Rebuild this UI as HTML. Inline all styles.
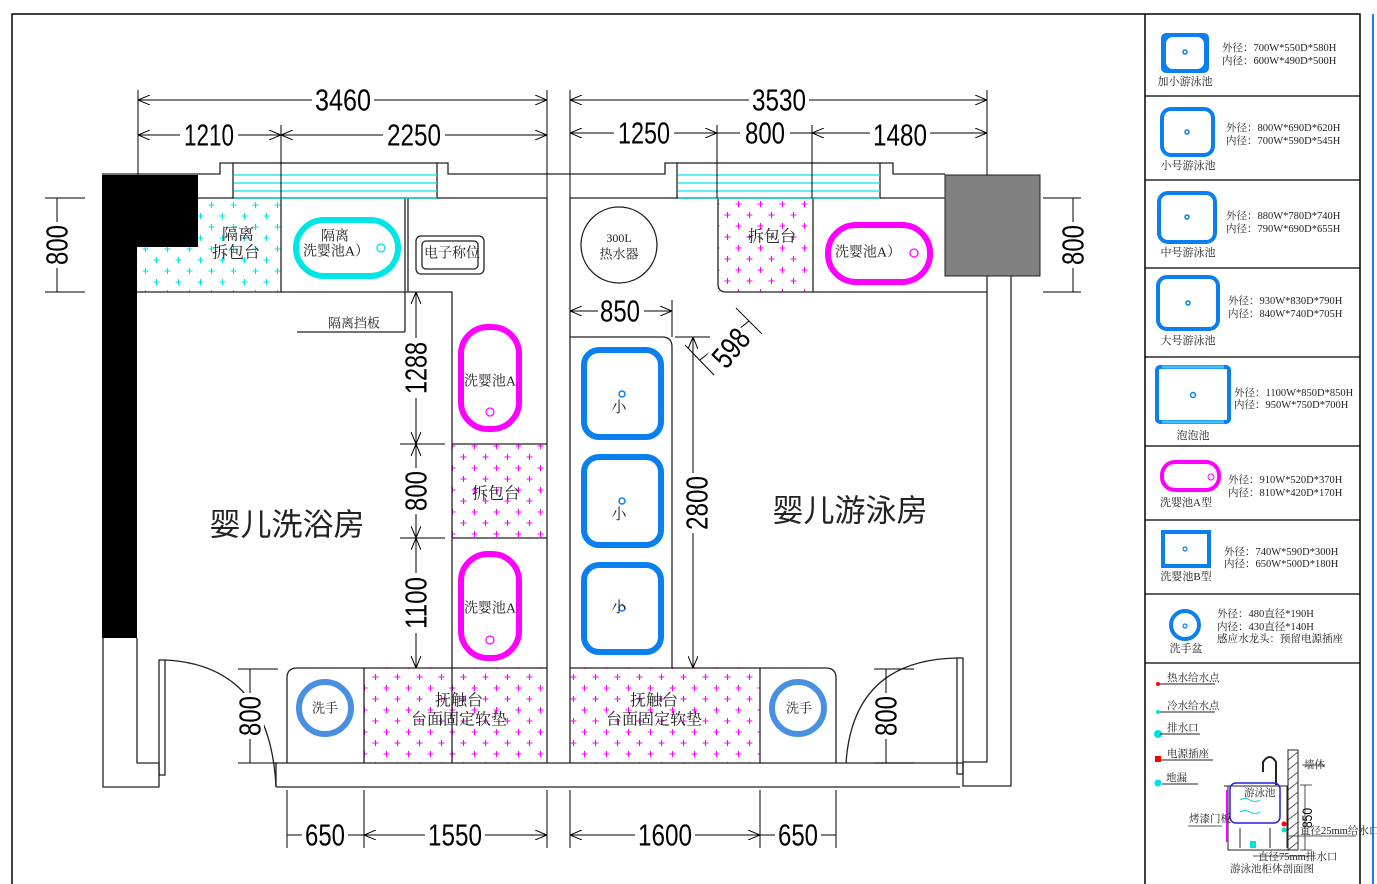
<!DOCTYPE html>
<html><head><meta charset="utf-8"><style>
html,body{margin:0;padding:0;background:#fff;}
svg{display:block;}
.n{font-family:"Liberation Sans",sans-serif;font-size:31px;fill:#000;text-anchor:middle;dominant-baseline:central;}
.c{font-family:"Liberation Serif","Noto Serif CJK SC",serif;fill:#222;text-anchor:middle;dominant-baseline:central;}
.l{font-family:"Liberation Serif","Noto Serif CJK SC",serif;font-size:10.5px;fill:#222;}
</style></head><body>
<svg width="1377" height="884" viewBox="0 0 1377 884" xmlns="http://www.w3.org/2000/svg">
<defs>
<marker id="a" viewBox="0 0 12 10" refX="12" refY="5" markerWidth="12" markerHeight="10" markerUnits="userSpaceOnUse" orient="auto-start-reverse"><path d="M0,0 L12,5 L0,10" fill="none" stroke="#000" stroke-width="1"/></marker>
<pattern id="pc" width="22" height="22" patternUnits="userSpaceOnUse" x="140" y="200">
<path d="M2.5,5h6M5.5,2v6M13.5,16h6M16.5,13v6" stroke="#00e0e0" stroke-width="1.1"/></pattern>
<pattern id="pm" width="22" height="22" patternUnits="userSpaceOnUse" x="370" y="672">
<path d="M2.5,5h6M5.5,2v6M13.5,16h6M16.5,13v6" stroke="#ff00ff" stroke-width="1.1"/></pattern>
</defs>
<rect width="1377" height="884" fill="#fff"/>
<path d="M12,884V14H1360V884" fill="none" stroke="#000" stroke-width="1.5"/>
<line x1="1145" y1="14" x2="1145" y2="884" stroke="#000" stroke-width="1.5"/>
<line x1="1373" y1="14" x2="1373" y2="884" stroke="#1a7cff" stroke-width="2"/>
<g stroke="#000" stroke-width="1.2">
<line x1="1145" y1="96" x2="1360" y2="96"/><line x1="1145" y1="180" x2="1360" y2="180"/>
<line x1="1145" y1="268" x2="1360" y2="268"/><line x1="1145" y1="357" x2="1360" y2="357"/>
<line x1="1145" y1="446" x2="1360" y2="446"/><line x1="1145" y1="520" x2="1360" y2="520"/>
<line x1="1145" y1="594" x2="1360" y2="594"/><line x1="1145" y1="663" x2="1360" y2="663"/>
</g>

<path d="M198,198H281V292H137V247H198Z" fill="url(#pc)"/>
<rect x="718" y="198" width="95" height="94" fill="url(#pm)"/>
<rect x="452" y="444" width="95" height="94" fill="url(#pm)"/>
<rect x="364" y="668" width="183" height="95" fill="url(#pm)"/>
<rect x="570" y="668" width="190" height="95" fill="url(#pm)"/>

<g fill="none" stroke="#222" stroke-width="1.3">
<path d="M102,174H220V163H233"/><path d="M437,163H448V174H665V163H677"/><path d="M880,163H893V174H945"/>
<rect x="233" y="163" width="204" height="35"/><rect x="677" y="163" width="203" height="35"/>
<path d="M198,198H547M570,198H945"/>
<path d="M103,638V787H159V763H137V638"/>
<path d="M276,787V763H963V786H1011V276M987,276V762H963"/>
<path d="M276,787H960"/>
<path d="M547,198V763M570,198V763"/>
<path d="M281,198V292M405,198V332M408,198V292M137,292H452V763M297,332H405"/>
<path d="M452,444H547M452,538H547"/>
<path d="M813,198V292M718,198V284Q718,292 726,292H987"/>
<path d="M570,337H662Q672,337 672,347V668"/>
<path d="M547,668H297Q287,668 287,678V763M364,668V763"/>
<path d="M570,668H826Q836,668 836,678V763M760,668V763"/>
<rect x="159" y="660" width="6" height="115"/><path d="M165,660Q270,665 276,787"/>
<rect x="957" y="658" width="6" height="116"/><path d="M957,658Q853,660 846,763"/>
</g>
<g stroke="#00e8e8" stroke-width="1.3"><line x1="234" y1="175" x2="437" y2="175"/><line x1="234" y1="183" x2="437" y2="183"/><line x1="234" y1="191" x2="437" y2="191"/><line x1="234" y1="198" x2="437" y2="198"/>
<line x1="678" y1="175" x2="880" y2="175"/><line x1="678" y1="183" x2="880" y2="183"/><line x1="678" y1="191" x2="880" y2="191"/><line x1="678" y1="198" x2="880" y2="198"/></g>
<path d="M102,175H198V247H137V638H102Z" fill="#000"/>
<rect x="945" y="175" width="95" height="101" fill="#808080" stroke="#222"/>

<rect x="296" y="220" width="102" height="56" rx="28" fill="none" stroke="#00e6e6" stroke-width="6"/>
<circle cx="381" cy="248" r="4" fill="none" stroke="#00e6e6" stroke-width="1.3"/>
<rect x="416" y="236" width="68" height="38" rx="5" fill="none" stroke="#222" stroke-width="1.3"/>
<rect x="422" y="241" width="56" height="28" rx="4" fill="none" stroke="#222" stroke-width="1.3"/>
<text class="c" x="452" y="254" font-size="14">电子称位</text>
<circle cx="619" cy="245" r="38" fill="none" stroke="#222" stroke-width="1.3"/>
<text class="c" x="619" y="238" font-size="12">300L</text><text class="c" x="619" y="254" font-size="13">热水器</text>
<rect x="828" y="225" width="102" height="57" rx="28" fill="none" stroke="#ff00ff" stroke-width="6"/>
<circle cx="914" cy="253" r="4" fill="none" stroke="#ff00ff" stroke-width="1.3"/>
<text class="c" x="868" y="253" font-size="14">洗婴池A）</text>
<text class="c" x="335" y="237" font-size="14">隔离</text><text class="c" x="336" y="252" font-size="14">洗婴池A）</text>
<text class="c" x="238" y="235" font-size="16">隔离</text><text class="c" x="236" y="253" font-size="16">拆包台</text>
<text class="c" x="772" y="237" font-size="16">拆包台</text>
<text class="c" x="354" y="323" font-size="13">隔离挡板</text>
<rect x="461" y="327" width="58" height="102" rx="27" fill="none" stroke="#ff00ff" stroke-width="6"/>
<rect x="461" y="554" width="58" height="104" rx="27" fill="none" stroke="#ff00ff" stroke-width="6"/>
<circle cx="490" cy="412" r="4" fill="none" stroke="#ff00ff" stroke-width="1.2"/>
<circle cx="490" cy="640" r="4" fill="none" stroke="#ff00ff" stroke-width="1.2"/>
<text class="c" x="490" y="382" font-size="14">洗婴池A</text><text class="c" x="490" y="609" font-size="14">洗婴池A</text>
<text class="c" x="496" y="494" font-size="16">拆包台</text>
<g fill="none" stroke="#0a7ff0" stroke-width="6">
<rect x="584" y="350" width="77" height="87" rx="15"/><rect x="584" y="457" width="77" height="88" rx="15"/><rect x="584" y="565" width="77" height="87" rx="15"/></g>
<g fill="none" stroke="#0a7ff0" stroke-width="1.5"><circle cx="622" cy="394" r="3"/><circle cx="622" cy="501" r="3"/><circle cx="622" cy="608" r="3"/></g>
<text class="c" x="619" y="408" font-size="15">小</text><text class="c" x="619" y="515" font-size="15">小</text><text class="c" x="619" y="608" font-size="15">小</text>
<circle cx="325" cy="708" r="26" fill="none" stroke="#4a90e2" stroke-width="6"/>
<circle cx="798" cy="708" r="26" fill="none" stroke="#4a90e2" stroke-width="6"/>
<text class="c" x="325" y="708" font-size="13">洗手</text><text class="c" x="799" y="708" font-size="13">洗手</text>
<text class="c" x="459" y="701" font-size="16">抚触台</text><text class="c" x="459" y="720" font-size="16">台面固定软垫</text>
<text class="c" x="654" y="701" font-size="16">抚触台</text><text class="c" x="654" y="720" font-size="16">台面固定软垫</text>
<text class="c" x="287" y="522" font-size="31" style="font-family:'Noto Sans CJK SC',sans-serif;">婴儿洗浴房</text>
<text class="c" x="850" y="508" font-size="31" style="font-family:'Noto Sans CJK SC',sans-serif;">婴儿游泳房</text>

<g stroke="#000" stroke-width="1">
<path d="M138,90V175M281,125V198M547,90V198M570,90V198M717,125V198M812,125V198M987,90V175"/>
<line x1="138" y1="100" x2="547" y2="100" marker-start="url(#a)" marker-end="url(#a)"/>
<line x1="138" y1="135" x2="281" y2="135" marker-start="url(#a)" marker-end="url(#a)"/>
<line x1="281" y1="135" x2="547" y2="135" marker-start="url(#a)" marker-end="url(#a)"/>
<line x1="570" y1="100" x2="987" y2="100" marker-start="url(#a)" marker-end="url(#a)"/>
<line x1="570" y1="133" x2="717" y2="133" marker-start="url(#a)" marker-end="url(#a)"/>
<line x1="717" y1="133" x2="812" y2="133"/>
<line x1="812" y1="133" x2="987" y2="133" marker-start="url(#a)" marker-end="url(#a)"/>
<path d="M287,790V848M364,790V848M547,790V848M570,790V848M760,790V848M836,790V848"/>
<line x1="287" y1="835" x2="364" y2="835"/><line x1="364" y1="835" x2="547" y2="835" marker-start="url(#a)" marker-end="url(#a)"/>
<line x1="570" y1="835" x2="760" y2="835" marker-start="url(#a)" marker-end="url(#a)"/><line x1="760" y1="835" x2="836" y2="835"/>
<path d="M45,198H85M45,292H85M57,198V292M1043,198H1081M1043,292H1081M1073,198V292"/>
<path d="M238,669H278M238,763H278M250,669V763M874,669H914M874,763H914M886,669V763"/>
<line x1="416" y1="292" x2="416" y2="444" marker-start="url(#a)" marker-end="url(#a)"/>
<line x1="416" y1="444" x2="416" y2="538" marker-start="url(#a)" marker-end="url(#a)"/>
<line x1="416" y1="538" x2="416" y2="668" marker-start="url(#a)" marker-end="url(#a)"/>
<path d="M400,444H445M400,538H445"/>
<line x1="570" y1="311" x2="672" y2="311" marker-start="url(#a)" marker-end="url(#a)"/>
<path d="M672,300V337M675,337H710"/>
<line x1="693" y1="337" x2="693" y2="668" marker-start="url(#a)" marker-end="url(#a)"/>
<path d="M685,345L714,375M736,308L762,334M700,360L749,321"/>
</g>
<g>
<rect x="312" y="86" width="62" height="28" fill="#fff"/><text class="n" x="343" y="100" textLength="56" lengthAdjust="spacingAndGlyphs">3460</text>
<rect x="180" y="121" width="58" height="28" fill="#fff"/><text class="n" x="209" y="135" textLength="50" lengthAdjust="spacingAndGlyphs">1210</text>
<rect x="383" y="121" width="62" height="28" fill="#fff"/><text class="n" x="414" y="135" textLength="54" lengthAdjust="spacingAndGlyphs">2250</text>
<rect x="749" y="86" width="60" height="28" fill="#fff"/><text class="n" x="779" y="100" textLength="54" lengthAdjust="spacingAndGlyphs">3530</text>
<rect x="614" y="119" width="60" height="28" fill="#fff"/><text class="n" x="644" y="133" textLength="52" lengthAdjust="spacingAndGlyphs">1250</text>
<rect x="740" y="119" width="50" height="28" fill="#fff"/><text class="n" x="765" y="133" textLength="40" lengthAdjust="spacingAndGlyphs">800</text>
<rect x="870" y="121" width="60" height="28" fill="#fff"/><text class="n" x="900" y="135" textLength="54" lengthAdjust="spacingAndGlyphs">1480</text>
<rect x="302" y="821" width="46" height="28" fill="#fff"/><text class="n" x="325" y="835" textLength="40" lengthAdjust="spacingAndGlyphs">650</text>
<rect x="425" y="821" width="60" height="28" fill="#fff"/><text class="n" x="455" y="835" textLength="54" lengthAdjust="spacingAndGlyphs">1550</text>
<rect x="635" y="821" width="60" height="28" fill="#fff"/><text class="n" x="665" y="835" textLength="54" lengthAdjust="spacingAndGlyphs">1600</text>
<rect x="775" y="821" width="46" height="28" fill="#fff"/><text class="n" x="798" y="835" textLength="40" lengthAdjust="spacingAndGlyphs">650</text>
<rect x="598" y="297" width="46" height="28" fill="#fff"/><text class="n" x="620" y="311" textLength="40" lengthAdjust="spacingAndGlyphs">850</text>
<g transform="translate(57,245) rotate(-90)"><rect x="-23" y="-14" width="46" height="28" fill="#fff"/><text class="n" x="0" y="0" textLength="40" lengthAdjust="spacingAndGlyphs">800</text></g>
<g transform="translate(1073,245) rotate(-90)"><rect x="-23" y="-14" width="46" height="28" fill="#fff"/><text class="n" x="0" y="0" textLength="40" lengthAdjust="spacingAndGlyphs">800</text></g>
<g transform="translate(416,368) rotate(-90)"><rect x="-30" y="-14" width="60" height="28" fill="#fff"/><text class="n" x="0" y="0" textLength="52" lengthAdjust="spacingAndGlyphs">1288</text></g>
<g transform="translate(416,491) rotate(-90)"><rect x="-23" y="-14" width="46" height="28" fill="#fff"/><text class="n" x="0" y="0" textLength="40" lengthAdjust="spacingAndGlyphs">800</text></g>
<g transform="translate(416,603) rotate(-90)"><rect x="-30" y="-14" width="60" height="28" fill="#fff"/><text class="n" x="0" y="0" textLength="52" lengthAdjust="spacingAndGlyphs">1100</text></g>
<g transform="translate(697,503) rotate(-90)"><rect x="-30" y="-14" width="60" height="28" fill="#fff"/><text class="n" x="0" y="0" textLength="54" lengthAdjust="spacingAndGlyphs">2800</text></g>
<g transform="translate(250,716) rotate(-90)"><rect x="-23" y="-14" width="46" height="28" fill="#fff"/><text class="n" x="0" y="0" textLength="40" lengthAdjust="spacingAndGlyphs">800</text></g>
<g transform="translate(886,716) rotate(-90)"><rect x="-23" y="-14" width="46" height="28" fill="#fff"/><text class="n" x="0" y="0" textLength="40" lengthAdjust="spacingAndGlyphs">800</text></g>
<g transform="translate(731,348) rotate(-50)"><rect x="-22" y="-14" width="44" height="28" fill="#fff"/><text class="n" x="0" y="0" textLength="40" lengthAdjust="spacingAndGlyphs">598</text></g>
</g>

<rect x="1161" y="33" width="48" height="40" rx="5" fill="#0a7ff0"/><rect x="1166" y="37" width="38" height="32" rx="7" fill="#fff"/>
<circle cx="1185" cy="52" r="2" fill="none" stroke="#0a7ff0" stroke-width="1.5"/>
<text class="c" x="1185" y="82" font-size="11">加小游泳池</text>
<text class="l" x="1222" y="51">外径：700W*550D*580H</text><text class="l" x="1222" y="64">内径：600W*490D*500H</text>
<rect x="1162" y="109" width="51" height="46" rx="9" fill="none" stroke="#0a7ff0" stroke-width="4"/><circle cx="1187" cy="132" r="2" fill="none" stroke="#0a7ff0" stroke-width="1.5"/>
<text class="c" x="1188" y="166" font-size="11">小号游泳池</text>
<text class="l" x="1226" y="131">外径：800W*690D*620H</text><text class="l" x="1226" y="144">内径：700W*590D*545H</text>
<rect x="1159" y="193" width="56" height="49" rx="9" fill="none" stroke="#0a7ff0" stroke-width="4"/><circle cx="1187" cy="217" r="2" fill="none" stroke="#0a7ff0" stroke-width="1.5"/>
<text class="c" x="1188" y="253" font-size="11">中号游泳池</text>
<text class="l" x="1226" y="219">外径：880W*780D*740H</text><text class="l" x="1226" y="232">内径：790W*690D*655H</text>
<rect x="1158" y="277" width="60" height="52" rx="9" fill="none" stroke="#0a7ff0" stroke-width="4"/><circle cx="1188" cy="303" r="2" fill="none" stroke="#0a7ff0" stroke-width="1.5"/>
<text class="c" x="1188" y="341" font-size="11">大号游泳池</text>
<text class="l" x="1228" y="304">外径：930W*830D*790H</text><text class="l" x="1228" y="317">内径：840W*740D*705H</text>
<rect x="1157" y="367" width="72" height="55" rx="3" fill="none" stroke="#0a7ff0" stroke-width="4"/>
<path d="M1162,367H1224M1162,422H1224" stroke="#40c0ff" stroke-width="3"/><circle cx="1193" cy="395" r="2.5" fill="none" stroke="#0a7ff0" stroke-width="1.5"/>
<text class="c" x="1193" y="436" font-size="11">泡泡池</text>
<text class="l" x="1234" y="396">外径：1100W*850D*850H</text><text class="l" x="1234" y="408">内径：950W*750D*700H</text>
<rect x="1162" y="462" width="57" height="28" rx="13" fill="none" stroke="#ff00ff" stroke-width="4"/><circle cx="1211" cy="477" r="3" fill="none" stroke="#ff00ff"/>
<text class="c" x="1186" y="503" font-size="11">洗婴池A型</text>
<text class="l" x="1228" y="483">外径：910W*520D*370H</text><text class="l" x="1228" y="496">内径：810W*420D*170H</text>
<rect x="1163" y="532" width="46" height="34" fill="none" stroke="#0a7ff0" stroke-width="4"/><circle cx="1185" cy="549" r="2" fill="none" stroke="#0a7ff0" stroke-width="1.2"/>
<text class="c" x="1186" y="577" font-size="11">洗婴池B型</text>
<text class="l" x="1224" y="555">外径：740W*590D*300H</text><text class="l" x="1224" y="567">内径：650W*500D*180H</text>
<circle cx="1185" cy="625" r="14" fill="none" stroke="#0a7ff0" stroke-width="4"/><circle cx="1185" cy="626" r="2" fill="none" stroke="#0a7ff0" stroke-width="1.2"/>
<text class="c" x="1186" y="649" font-size="11">洗手盆</text>
<text class="l" x="1217" y="617">外径：480直径*190H</text><text class="l" x="1217" y="630">内径：430直径*140H</text><text class="l" x="1217" y="642">感应水龙头：预留电源插座</text>
<circle cx="1158" cy="684" r="2" fill="#ff0000"/><text class="l" x="1167" y="681" font-size="11">热水给水点</text><line x1="1160" y1="684" x2="1215" y2="684" stroke="#222"/>
<circle cx="1158" cy="712" r="2" fill="#00e0e0"/><text class="l" x="1167" y="709" font-size="11">冷水给水点</text><line x1="1160" y1="712" x2="1215" y2="712" stroke="#222"/>
<circle cx="1158" cy="734" r="4" fill="#00e0e0"/><text class="l" x="1167" y="731" font-size="11">排水口</text><line x1="1160" y1="734" x2="1200" y2="734" stroke="#222"/>
<rect x="1155" y="756" width="6" height="6" fill="#ff0000"/><text class="l" x="1167" y="757" font-size="11">电源插座</text><line x1="1160" y1="760" x2="1213" y2="760" stroke="#222"/>
<circle cx="1158" cy="783" r="3.5" fill="#00e0e0"/><text class="l" x="1166" y="781" font-size="11">地漏</text><line x1="1162" y1="784" x2="1198" y2="784" stroke="#222"/>
<rect x="1288" y="750" width="10" height="100" fill="#fff" stroke="#222"/>
<path d="M1288,760l10,-8M1288,770l10,-8M1288,780l10,-8M1288,790l10,-8M1288,800l10,-8M1288,810l10,-8M1288,820l10,-8M1288,830l10,-8M1288,840l10,-8M1288,850l10,-8" stroke="#222" stroke-width="0.8"/>
<path d="M1263,772V762Q1270,752 1276,762V785" fill="none" stroke="#222" stroke-width="2"/>
<path d="M1224,786H1288M1228,786V850H1288M1287,786V848M1240,828V848M1270,828V848" fill="none" stroke="#222" stroke-width="1"/>
<rect x="1230" y="783" width="50" height="40" rx="6" fill="none" stroke="#2020e0" stroke-width="1.5"/>
<path d="M1240,800q5,-3 10,0t10,0M1240,812q5,-3 10,0t10,0" fill="none" stroke="#00d0d0" stroke-width="1"/>
<text class="l" x="1244" y="796" font-size="8">游泳池</text>
<line x1="1227" y1="790" x2="1227" y2="842" stroke="#ff00ff" stroke-width="2"/>
<rect x="1250" y="841" width="6" height="7" fill="#00e0e0"/><circle cx="1284" cy="824" r="2.5" fill="#ff0000"/><circle cx="1284" cy="830" r="2.5" fill="#00e0e0"/>
<path d="M1302,765H1325M1305,785V850M1300,785H1312M1300,850H1312M1289,836H1356M1253,856H1315M1188,826H1222" stroke="#222" stroke-width="0.8" fill="none"/>
<text class="l" x="1304" y="768" font-size="8">墙体</text>
<text class="l" x="1189" y="822" font-size="7">烤漆门板</text>
<text class="l" x="1300" y="834" font-size="7">直径25mm给水口</text>
<text class="l" x="1258" y="860" font-size="7">直径75mm排水口</text>
<text class="l" x="1230" y="872" font-size="7">游泳池柜体剖面图</text>
<g transform="translate(1307,818) rotate(-90)"><text class="n" x="0" y="0" style="font-size:14px" textLength="20" lengthAdjust="spacingAndGlyphs">850</text></g>
</svg>
</body></html>
